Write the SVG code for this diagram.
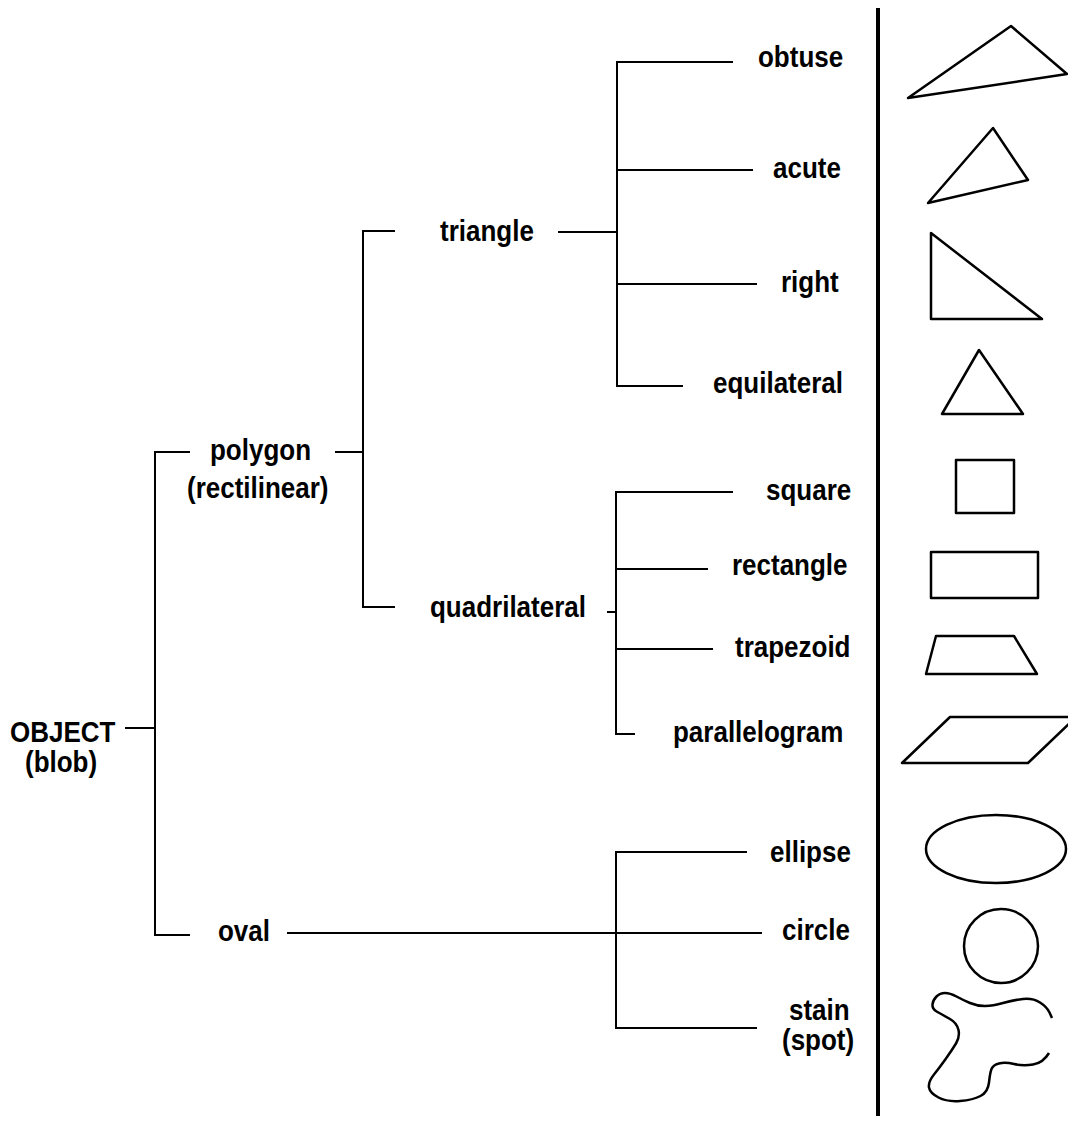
<svg xmlns="http://www.w3.org/2000/svg" width="1068" height="1124" viewBox="0 0 1068 1124">
<style>
.t{font-family:"Liberation Sans",Arial,sans-serif;font-weight:bold;font-size:26px;fill:#000}
.c{fill:none;stroke:#000;stroke-width:2}
.s{fill:none;stroke:#000;stroke-width:2.5;stroke-linejoin:round}
</style>
<rect width="1068" height="1124" fill="#fff"/>
<g id="connectors" class="c">
<path d="M125 728H155"/>
<path d="M190 452H155V935H190"/>
<path d="M335 452H363"/>
<path d="M395 231H363V607H395"/>
<path d="M558 232H617"/>
<path d="M733 62H617V386H683"/>
<path d="M617 170H753"/>
<path d="M617 284H757"/>
<path d="M607 612H616"/>
<path d="M733 492H616V734H635"/>
<path d="M616 569H708"/>
<path d="M616 649H713"/>
<path d="M287 933H762"/>
<path d="M747 852H616V1028H757"/>
</g>
<line id="separator" x1="878" y1="8" x2="878" y2="1116" stroke="#000" stroke-width="4"/>
<g id="object"><text class="t" transform="translate(10,742) scale(1,1.15)">OBJECT</text><text class="t" transform="translate(25,772) scale(1,1.15)">(blob)</text></g>
<g id="polygon"><text class="t" transform="translate(210,460) scale(1,1.15)">polygon</text><text class="t" transform="translate(187,498) scale(1,1.15)">(rectilinear)</text></g>
<g id="oval"><text class="t" transform="translate(218,941) scale(1,1.15)">oval</text></g>
<g id="triangle"><text class="t" transform="translate(440,241) scale(1,1.15)">triangle</text></g>
<g id="quadrilateral"><text class="t" transform="translate(430,617) scale(1,1.15)">quadrilateral</text></g>
<g id="obtuse"><text class="t" transform="translate(758,67) scale(1,1.15)">obtuse</text><polygon class="s" points="908,98 1011,26 1067,74"/></g>
<g id="acute"><text class="t" transform="translate(773,178) scale(1,1.15)">acute</text><polygon class="s" points="928,203 993,128 1028,180"/></g>
<g id="right"><text class="t" transform="translate(781,292) scale(1,1.15)">right</text><polygon class="s" points="931,233 931,319 1042,319"/></g>
<g id="equilateral"><text class="t" transform="translate(713,393) scale(1,1.15)">equilateral</text><polygon class="s" points="979,350 942,414 1023,414"/></g>
<g id="square"><text class="t" transform="translate(766,500) scale(1,1.15)">square</text><rect class="s" x="956" y="460" width="58" height="53"/></g>
<g id="rectangle"><text class="t" transform="translate(732,575) scale(1,1.15)">rectangle</text><rect class="s" x="931" y="552" width="107" height="46"/></g>
<g id="trapezoid"><text class="t" transform="translate(735,657) scale(1,1.15)">trapezoid</text><polygon class="s" points="936,636 1014,636 1037,674 926,674"/></g>
<g id="parallelogram"><text class="t" transform="translate(673,742) scale(1,1.15)">parallelogram</text><polygon class="s" points="950,717 1076,717 1028,763 902,763"/></g>
<g id="ellipse"><text class="t" transform="translate(770,862) scale(1,1.15)">ellipse</text><ellipse class="s" cx="996" cy="849" rx="70" ry="34"/></g>
<g id="circle"><text class="t" transform="translate(782,940) scale(1,1.15)">circle</text><circle class="s" cx="1001" cy="946" r="37"/></g>
<g id="stain"><text class="t" transform="translate(789,1020) scale(1,1.15)">stain</text><text class="t" transform="translate(782,1050) scale(1,1.15)">(spot)</text>
<path class="s" d="M1049 1053 Q1043 1063 1033 1064.5 Q1023 1066 1014 1064 Q1005 1062 999 1063.5 Q993 1065 991.5 1069 Q990 1073 989 1082.5 Q988 1092 980.5 1096 Q973 1100 960 1101 Q947 1102 938.5 1097.5 Q930 1093 929 1087.5 Q928 1082 934 1074.5 Q940 1067 946 1058.5 Q952 1050 956 1043.5 Q960 1037 958.5 1030 Q957 1023 950 1019 Q943 1015 937.5 1012 Q932 1009 932.5 1004.5 Q933 1000 936.5 996.5 Q940 993 945 993 Q950 993 956.5 996.5 Q963 1000 970 1003 Q977 1006 985 1006 Q993 1006 1003 1003 Q1013 1000 1023 999 Q1033 998 1040 1002.5 Q1047 1007 1049.5 1012.5 L1052 1018"/></g>
</svg>
